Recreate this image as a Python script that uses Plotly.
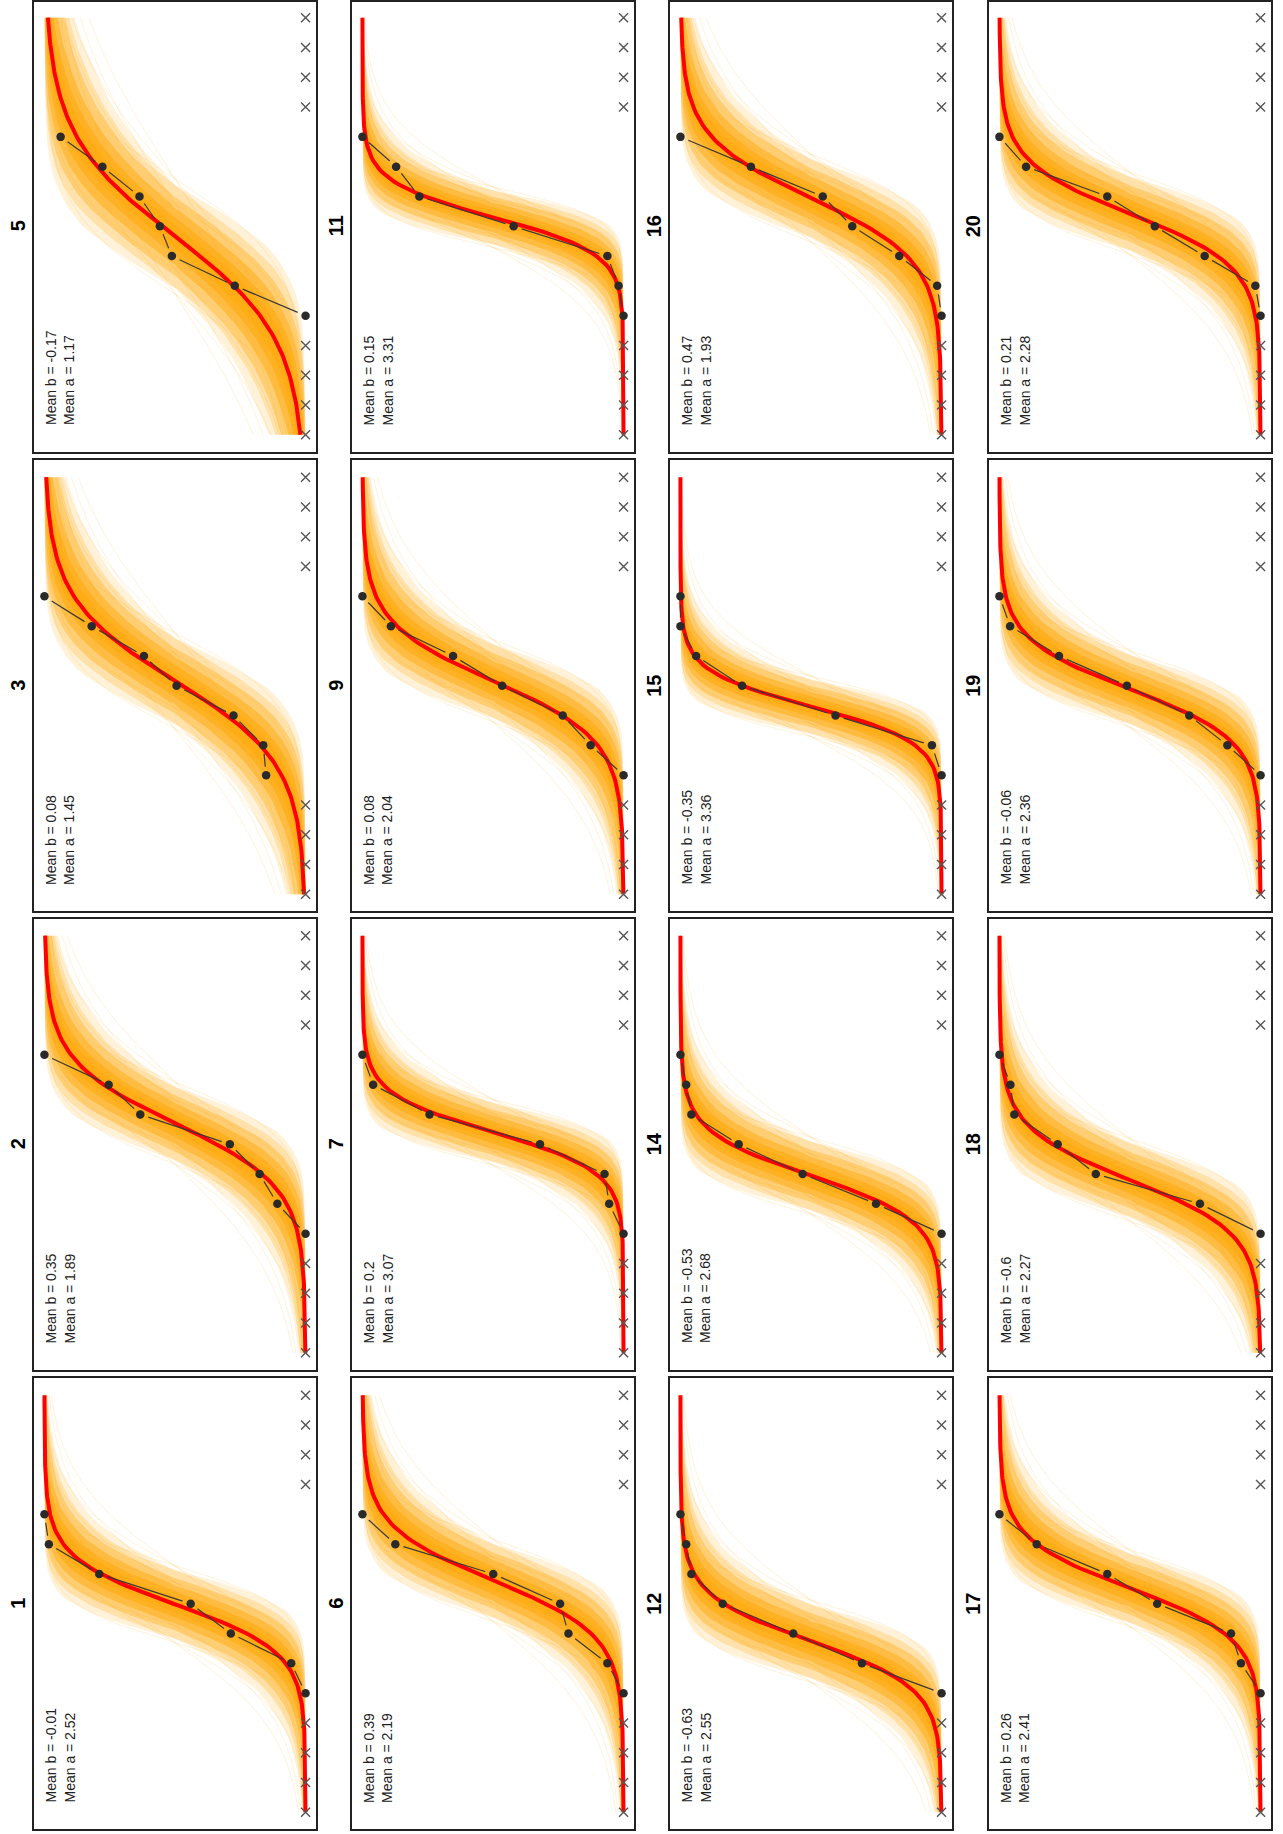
import numpy as np
import plotly.graph_objects as go
from statistics import NormalDist

W, H = 1283, 1834

# ---------------- data ----------------
panel_ids = [1, 2, 3, 5, 6, 7, 9, 11, 12, 14, 15, 16, 17, 18, 19, 20]
mean_b = [-0.01, 0.35, 0.08, -0.17, 0.39, 0.2, 0.08, 0.15,
          -0.63, -0.53, -0.35, 0.47, 0.26, -0.6, -0.06, 0.21]
mean_a = [2.52, 1.89, 1.45, 1.17, 2.19, 3.07, 2.04, 3.31,
          2.55, 2.68, 3.36, 1.93, 2.41, 2.27, 2.36, 2.28]
sd_b = [0.28, 0.30, 0.35, 0.42, 0.30, 0.24, 0.30, 0.22,
        0.30, 0.28, 0.22, 0.32, 0.28, 0.30, 0.28, 0.30]
sd_log_a = [0.30, 0.30, 0.30, 0.30, 0.30, 0.30, 0.30, 0.30,
            0.30, 0.30, 0.30, 0.30, 0.30, 0.30, 0.30, 0.30]

obs_levels = [-1.5, -1.0, -0.5, 0.0, 0.5, 1.0, 1.5]
excluded_levels = [-3.5, -3.0, -2.5, -2.0, 2.0, 2.5, 3.0, 3.5]
excluded_value = [0, 0, 0, 0, 0, 0, 0, 0]
obs_prop = [
    [0.0, 0.055, 0.286, 0.44, 0.79, 0.983, 1.0],     # 1
    [0.0, 0.108, 0.176, 0.29, 0.633, 0.754, 1.0],    # 2
    [0.151, 0.162, 0.276, 0.494, 0.619, 0.819, 1.0], # 3
    [0.0, 0.271, 0.512, 0.558, 0.636, 0.778, 0.938],  # 5
    [0.0, 0.062, 0.211, 0.243, 0.499, 0.874, 1.0],   # 6
    [0.0, 0.055, 0.073, 0.32, 0.743, 0.959, 1.0],    # 7
    [0.0, 0.126, 0.233, 0.465, 0.653, 0.891, 1.0],   # 9
    [0.0, 0.019, 0.062, 0.421, 0.782, 0.871, 1.0],   # 11
    [0.0, 0.305, 0.568, 0.838, 0.958, 0.978, 1.0],   # 12
    [0.0, 0.251, 0.532, 0.777, 0.958, 0.978, 1.0],   # 14
    [0.0, 0.037, 0.406, 0.764, 0.94, 1.0, 1.0],      # 15
    [0.0, 0.017, 0.162, 0.342, 0.455, 0.73, 1.0],    # 16
    [0.0, 0.075, 0.113, 0.396, 0.587, 0.857, 1.0],   # 17
    [0.0, 0.232, 0.631, 0.777, 0.943, 0.958, 1.0],   # 18
    [0.0, 0.127, 0.273, 0.512, 0.772, 0.959, 1.0],   # 19
    [0.0, 0.02, 0.214, 0.405, 0.587, 0.898, 1.0],    # 20
]
x_min, x_max = -3.5, 3.5

# ---------------- geometry ----------------
COL_LEFT = [34, 352, 670, 989]
ROW_TOP = [-1, 459, 918, 1378]
PW, PH = 282, 451
XR = (-3.78, 3.78)        # stimulus axis (vertical)
PR = (1.04, -0.04)        # probability axis (horizontal, reversed)
px_per_p = PW / (PR[0] - PR[1])
px_per_x = PH / (XR[1] - XR[0])

FONT = "Liberation Sans, Arial, Helvetica, sans-serif"
ORANGE = "255,165,0"

nd = NormalDist()
NQ = 25
zq = np.array([nd.inv_cdf((k + 0.5) / NQ) for k in range(NQ)])
xs = np.linspace(x_min, x_max, 141)


def logistic(x, a, b):
    return 1.0 / (1.0 + np.exp(-a * (x - b)))


def fmt(v):
    return ("%g" % v)


fig = go.Figure()
layout = dict(width=W, height=H, margin=dict(l=0, r=0, t=0, b=0),
              paper_bgcolor="white", plot_bgcolor="white", showlegend=False)
annotations = []

band_pcts = [(0.5, 99.5, 0.15), (2, 98, 0.22), (5, 95, 0.32),
             (12, 88, 0.42), (22, 78, 0.45), (32, 68, 0.40)]
tex_zb = [-2.3, -1.3, 1.3, 2.3]
tex_za = [-2.3, -1.3, 0.6]

for i, pid in enumerate(panel_ids):
    c = i // 4
    r = 3 - (i % 4)
    left = COL_LEFT[c]
    top = ROW_TOP[r]
    top_clip = max(top, 0)
    bottom = top + PH
    ydom = [1 - bottom / H, 1 - top_clip / H]
    xdom = [left / W, (left + PW) / W]
    yr_top = XR[0] + (bottom - top_clip) / px_per_x
    k = "" if i == 0 else str(i + 1)
    layout["xaxis" + k] = dict(domain=xdom, range=list(PR), anchor="y" + k,
                               showgrid=False, zeroline=False, showticklabels=False,
                               ticks="", showline=True, mirror=True,
                               linecolor="#222", linewidth=2)
    layout["yaxis" + k] = dict(domain=ydom, range=[XR[0], yr_top], anchor="x" + k,
                               showgrid=False, zeroline=False, showticklabels=False,
                               ticks="", showline=True, mirror=True,
                               linecolor="#222", linewidth=2)
    xa, ya = "x" + k, "y" + k

    mb, ma = mean_b[i], mean_a[i]
    B = mb + sd_b[i] * zq
    A = ma * np.exp(sd_log_a[i] * zq)
    P = logistic(xs[None, None, :], A[None, :, None], B[:, None, None]).reshape(-1, xs.size)

    # individual faint draws for texture
    tx, ty = [], []
    for zb in tex_zb:
        for za in tex_za:
            p = logistic(xs, ma * np.exp(sd_log_a[i] * za), mb + sd_b[i] * zb)
            tx += list(p) + [None]
            ty += list(xs) + [None]
    fig.add_trace(go.Scatter(x=tx, y=ty, mode="lines",
                             line=dict(color="rgba(%s,0.15)" % ORANGE, width=1),
                             hoverinfo="skip", xaxis=xa, yaxis=ya))
    # posterior band (nested quantile envelopes)
    for lo, hi, al in band_pcts:
        plo = np.percentile(P, lo, axis=0)
        phi = np.percentile(P, hi, axis=0)
        fig.add_trace(go.Scatter(
            x=np.concatenate([plo, phi[::-1]]),
            y=np.concatenate([xs, xs[::-1]]),
            mode="lines", fill="toself", line=dict(width=0),
            fillcolor="rgba(%s,%.2f)" % (ORANGE, al),
            hoverinfo="skip", xaxis=xa, yaxis=ya))
    # mean curve
    fig.add_trace(go.Scatter(x=logistic(xs, ma, mb), y=xs, mode="lines",
                             line=dict(color="#ff0000", width=4),
                             hoverinfo="skip", xaxis=xa, yaxis=ya))
    # observed proportions connected with gapped segments (type = "b")
    props = obs_prop[i]
    sx, sy = [], []
    gap = 8.5
    for j in range(len(obs_levels) - 1):
        p1, p2 = props[j], props[j + 1]
        x1, x2 = obs_levels[j], obs_levels[j + 1]
        dpx = (p2 - p1) * px_per_p
        dpy = (x2 - x1) * px_per_x
        L = (dpx ** 2 + dpy ** 2) ** 0.5
        if L > 2 * gap + 1:
            t0, t1 = gap / L, 1 - gap / L
            sx += [p1 + (p2 - p1) * t0, p1 + (p2 - p1) * t1, None]
            sy += [x1 + (x2 - x1) * t0, x1 + (x2 - x1) * t1, None]
    fig.add_trace(go.Scatter(x=sx, y=sy, mode="lines",
                             line=dict(color="#3a3a3a", width=1.2),
                             hoverinfo="skip", xaxis=xa, yaxis=ya))
    fig.add_trace(go.Scatter(x=props, y=obs_levels, mode="markers",
                             marker=dict(color="#2a2a2a", size=8.5),
                             hoverinfo="skip", xaxis=xa, yaxis=ya))
    fig.add_trace(go.Scatter(x=excluded_value, y=excluded_levels, mode="markers",
                             marker=dict(symbol="x-thin", size=9, color="#555",
                                         line=dict(color="#555", width=1.4)),
                             hoverinfo="skip", xaxis=xa, yaxis=ya))

    # panel title
    annotations.append(dict(
        text="<b>%d</b>" % pid, xref="paper", yref="paper",
        x=(left - 16) / W, y=1 - (top + PH / 2) / H, xanchor="center", yanchor="middle",
        textangle=-90, showarrow=False,
        font=dict(family=FONT, size=20, color="#000")))
    # statistics text
    annotations.append(dict(
        text="Mean b = %s<br>Mean a = %s" % (fmt(mb), fmt(ma)),
        xref="paper", yref="paper", x=(left + 7) / W, y=1 - (bottom - 24) / H,
        xanchor="left", yanchor="bottom", textangle=-90, align="left",
        showarrow=False, font=dict(family=FONT, size=14, color="#222")))

layout["annotations"] = annotations
fig.update_layout(**layout)
fig.write_html("out.html")
